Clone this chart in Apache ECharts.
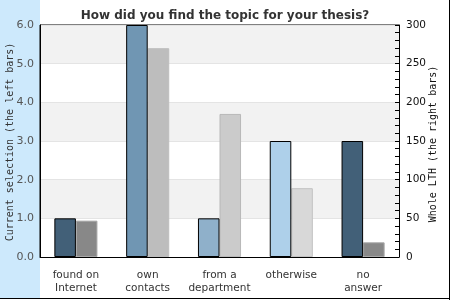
<!DOCTYPE html>
<html>
<head>
<meta charset="utf-8">
<script src="https://cdn.jsdelivr.net/npm/echarts@6/dist/echarts.min.js"></script>
<style>html,body{margin:0;padding:0;background:#fff}#c{width:450px;height:300px}</style>
</head>
<body>
<div id="c"></div>
<script>
const categories = ['found on\nInternet', 'own\ncontacts', 'from a\ndepartment', 'otherwise', 'no\nanswer'];
const currentSelection = [1, 6, 1, 3, 3];
const wholeLTH = [47, 270, 185, 89, 19];
const leftTicks = [0, 1, 2, 3, 4, 5, 6];
const rightTicks = [0, 50, 100, 150, 200, 250, 300];
const leftAxisName = 'Current selection (the left bars)';
const rightAxisName = 'Whole LTH (the right bars)';

const leftColors = ['#426078', '#7096b3', '#8fb0ca', '#aed0ea', '#426078'];
const rightColors = ['#888888', '#bdbdbd', '#cbcbcb', '#d8d8d8', '#888888'];
const rightBorders = ['#a8a8a8', '#bdbdbd', '#b8b8b8', '#c2c2c2', '#a8a8a8'];

const chart = echarts.init(document.getElementById('c'), null, {renderer: 'canvas'});
chart.setOption({
  animation: false,
  backgroundColor: '#fff',
  title: {
    text: 'How did you find the topic for your thesis?',
    left: 'center', top: 5,
    textStyle: {fontFamily: 'DejaVu Sans', fontWeight: 'bold', fontSize: 12, color: '#333'}
  },
  graphic: [
    {type: 'rect', shape: {x: 0, y: 0, width: 40, height: 298}, style: {fill: '#cde9fc'}, z: -10},
    {type: 'line', shape: {x1: 0, y1: 298.5, x2: 450, y2: 298.5}, style: {stroke: '#000', lineWidth: 1}},
    {type: 'line', shape: {x1: 449.5, y1: 0, x2: 449.5, y2: 300}, style: {stroke: '#000', lineWidth: 1}},
    {type: 'text', x: 10, y: 142, rotation: Math.PI / 2,
     style: {text: leftAxisName, font: '10px "DejaVu Sans Mono"', fill: '#333', align: 'center', verticalAlign: 'middle'}},
    {type: 'text', x: 433, y: 144, rotation: Math.PI / 2,
     style: {text: rightAxisName, font: '10px "DejaVu Sans Mono"', fill: '#111', align: 'center', verticalAlign: 'middle'}}
  ],
  grid: {left: 40, right: 51, top: 25, bottom: 43, containLabel: false, outerBoundsMode: 'none',
         show: true, borderColor: '#000', borderWidth: 1, backgroundColor: 'transparent'},
  xAxis: {
    type: 'category', data: categories,
    axisLine: {lineStyle: {color: '#000'}},
    axisTick: {show: false},
    axisLabel: {interval: 0, fontFamily: 'DejaVu Sans', fontSize: 10.5, color: '#333', lineHeight: 13, margin: 12}
  },
  yAxis: [
    {
      type: 'value', min: leftTicks[0], max: leftTicks[leftTicks.length - 1], interval: 1,
      axisLine: {show: true, lineStyle: {color: '#000'}},
      axisTick: {show: false},
      axisLabel: {formatter: v => v.toFixed(1), fontFamily: 'DejaVu Sans', fontSize: 11, color: '#555', margin: 6},
      splitLine: {show: true, lineStyle: {color: '#e4e4e4'}},
      splitArea: {show: true, areaStyle: {color: ['#ffffff', '#f2f2f2']}}
    },
    {
      type: 'value', min: rightTicks[0], max: rightTicks[rightTicks.length - 1], interval: 50,
      axisLine: {show: true, lineStyle: {color: '#000'}},
      axisTick: {show: true, inside: true, length: 4, lineStyle: {color: '#000'}},
      minorTick: {show: true, splitNumber: 5, length: 4, lineStyle: {color: '#000'}},
      axisLabel: {fontFamily: 'DejaVu Sans', fontSize: 10.5, color: '#111', margin: 7},
      splitLine: {show: false}
    }
  ],
  series: [
    {
      type: 'bar', yAxisIndex: 0, barWidth: '30%', barGap: '0%', z: 3,
      data: currentSelection.map((v, i) => ({value: v, itemStyle: {color: leftColors[i], borderColor: '#000', borderWidth: 1}}))
    },
    {
      type: 'bar', yAxisIndex: 1, barWidth: '30%', barGap: '0%', z: 2,
      data: wholeLTH.map((v, i) => ({value: v, itemStyle: {color: rightColors[i], borderColor: rightBorders[i], borderWidth: 1}}))
    }
  ]
});
</script>
</body>
</html>
